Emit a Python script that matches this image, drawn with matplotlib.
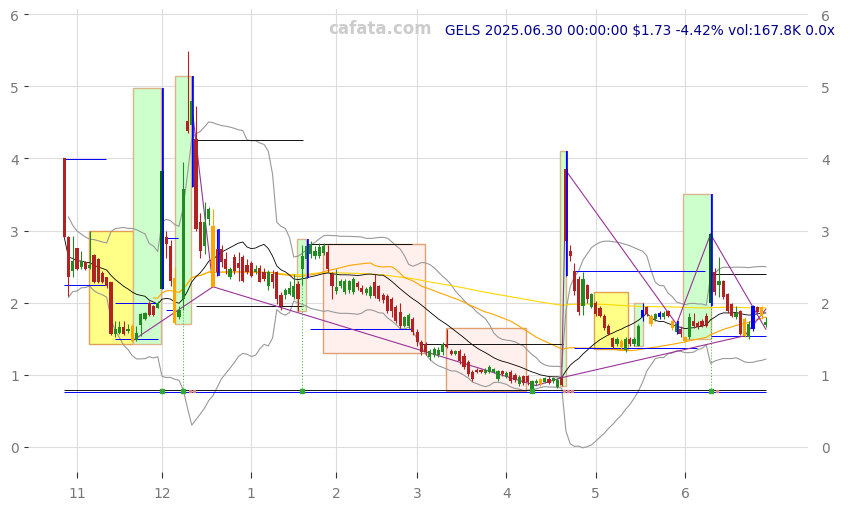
import matplotlib
matplotlib.use("Agg")
import matplotlib.pyplot as plt
from matplotlib.patches import Rectangle
import pandas as pd

# dias de pregao (out/2024 - jun/2025)
feriados = ["2024-11-28", "2024-12-25", "2025-01-01", "2025-01-09", "2025-01-20",
            "2025-02-17", "2025-04-18", "2025-05-26", "2025-06-19"]
datas = pd.bdate_range("2024-10-29", "2025-06-30", freq="C", holidays=feriados)

# OHLC
abre = [4.00, 2.91, 2.44, 2.76, 2.49, 2.56, 2.48, 2.66, 2.60, 2.41,
        2.35, 2.28, 1.57, 1.58, 1.66, 1.60, 1.68, 1.48, 1.69, 1.77,
        2.00, 1.95, 1.93, 2.19, 2.91, 2.79, 2.34, 1.80, 2.05, 4.52,
        4.47, 4.27, 3.12, 2.78, 3.16, 3.06, 2.74, 2.74, 2.60, 2.35,
        2.63, 2.55, 2.63, 2.52, 2.55, 2.42, 2.48, 2.42, 2.23, 2.40,
        2.42, 2.10, 2.10, 2.12, 2.08, 2.26, 2.47, 2.60, 2.67, 2.65,
        2.65, 2.69, 2.70, 2.40, 2.16, 2.23, 2.15, 2.17, 2.15, 2.27,
        2.20, 2.14, 2.09, 2.29, 2.23, 2.10, 2.09, 2.05, 1.94, 1.87,
        1.68, 1.68, 1.77, 1.59, 1.45, 1.43, 1.25, 1.27, 1.28, 1.31,
        1.43, 1.33, 1.29, 1.33, 1.26, 1.18, 1.04, 1.07, 1.07, 1.03,
        1.04, 1.04, 0.94, 1.05, 0.97, 1.04, 1.00, 0.87, 0.98, 0.98,
        0.78, 0.88, 0.94, 0.90, 0.94, 0.91, 0.83, 0.96, 3.85, 2.72,
        2.44, 2.33, 1.96, 2.24, 1.94, 2.00, 1.92, 1.82, 1.68, 1.51,
        1.43, 1.47, 1.34, 1.50, 1.43, 1.40, 1.80, 1.94, 1.82, 1.77,
        1.80, 1.80, 1.88, 1.74, 1.59, 1.63, 1.52, 1.52, 1.74, 1.72,
        1.74, 1.82, 2.00, 2.42, 2.25, 2.30, 2.12, 1.98, 1.80, 1.88,
        1.77, 1.52, 1.63, 1.94, 1.94, 1.69]
maximas = [4.00, 2.92, 2.92, 2.76, 2.71, 2.58, 2.99, 2.68, 2.62, 2.44,
           2.36, 2.29, 1.74, 1.75, 1.74, 1.70, 1.70, 1.68, 1.86, 1.87,
           2.02, 1.97, 2.02, 4.97, 3.00, 2.87, 2.49, 1.95, 3.95, 5.49,
           5.14, 4.72, 3.24, 3.39, 3.33, 3.30, 3.02, 2.80, 2.70, 2.50,
           2.68, 2.70, 2.66, 2.60, 2.58, 2.52, 2.52, 2.48, 2.45, 2.45,
           2.44, 2.15, 2.20, 2.30, 2.40, 2.30, 2.80, 2.88, 2.85, 2.78,
           2.82, 2.82, 2.80, 2.42, 2.47, 2.33, 2.33, 2.32, 2.35, 2.30,
           2.24, 2.22, 2.25, 2.40, 2.25, 2.14, 2.12, 2.08, 1.97, 2.00,
           1.82, 1.85, 1.80, 1.63, 1.48, 1.45, 1.36, 1.38, 1.38, 1.45,
           1.63, 1.36, 1.35, 1.36, 1.30, 1.20, 1.06, 1.09, 1.08, 1.09,
           1.13, 1.10, 1.07, 1.07, 1.05, 1.06, 1.02, 0.99, 1.00, 1.00,
           0.93, 0.94, 0.96, 0.97, 0.98, 0.97, 0.96, 0.98, 4.10, 2.80,
           2.55, 2.37, 2.43, 2.26, 2.14, 2.02, 1.95, 1.84, 1.70, 1.53,
           1.52, 1.50, 1.52, 1.52, 1.52, 1.70, 2.00, 1.96, 1.84, 1.86,
           1.88, 1.88, 1.90, 1.76, 1.75, 1.68, 1.54, 1.85, 1.85, 1.75,
           1.78, 1.85, 3.50, 2.48, 2.63, 2.32, 2.14, 2.00, 1.95, 1.90,
           1.80, 1.75, 1.97, 1.96, 1.96, 1.80]
minimas = [2.90, 2.09, 2.35, 2.45, 2.47, 2.45, 2.46, 2.27, 2.27, 2.27,
           2.20, 1.55, 1.52, 1.56, 1.55, 1.58, 1.46, 1.47, 1.54, 1.76,
           1.82, 1.82, 1.92, 2.19, 2.62, 2.23, 1.70, 1.78, 1.90, 4.35,
           3.60, 3.00, 2.62, 2.68, 3.08, 2.22, 2.37, 2.50, 2.40, 2.33,
           2.40, 2.30, 2.28, 2.40, 2.35, 2.40, 2.28, 2.30, 2.18, 2.20,
           1.98, 1.90, 2.05, 2.10, 2.05, 1.88, 2.25, 2.34, 2.62, 2.60,
           2.62, 2.66, 2.42, 2.05, 2.12, 2.20, 2.12, 2.14, 2.12, 2.18,
           2.12, 2.10, 2.06, 2.06, 2.02, 2.00, 1.85, 1.80, 1.72, 1.65,
           1.66, 1.65, 1.55, 1.40, 1.28, 1.28, 1.20, 1.25, 1.25, 1.28,
           1.37, 1.27, 1.27, 1.15, 1.08, 0.98, 0.92, 1.02, 1.02, 1.01,
           1.02, 1.02, 0.92, 0.98, 0.95, 0.88, 0.90, 0.85, 0.86, 0.86,
           0.76, 0.86, 0.85, 0.88, 0.87, 0.89, 0.81, 0.84, 2.37, 2.58,
           2.10, 1.83, 1.83, 2.00, 1.92, 1.82, 1.80, 1.62, 1.55, 1.37,
           1.40, 1.36, 1.32, 1.40, 1.40, 1.40, 1.75, 1.82, 1.68, 1.75,
           1.78, 1.78, 1.80, 1.62, 1.57, 1.53, 1.46, 1.50, 1.65, 1.64,
           1.66, 1.66, 1.95, 2.10, 2.08, 2.05, 1.86, 1.80, 1.78, 1.55,
           1.52, 1.50, 1.60, 1.85, 1.78, 1.66]
fecha = [2.91, 2.35, 2.58, 2.47, 2.58, 2.47, 2.52, 2.28, 2.29, 2.29,
         2.23, 1.57, 1.63, 1.66, 1.56, 1.64, 1.47, 1.58, 1.84, 1.85,
         1.83, 1.83, 2.00, 3.82, 2.81, 2.30, 1.72, 1.90, 3.57, 4.38,
         4.79, 3.02, 2.72, 3.12, 3.30, 2.22, 2.42, 2.56, 2.47, 2.47,
         2.44, 2.48, 2.30, 2.43, 2.37, 2.47, 2.29, 2.33, 2.42, 2.28,
         2.05, 1.95, 2.18, 2.20, 2.23, 2.05, 2.65, 2.78, 2.81, 2.72,
         2.77, 2.78, 2.47, 2.23, 2.22, 2.30, 2.30, 2.30, 2.33, 2.22,
         2.15, 2.19, 2.22, 2.09, 2.05, 2.03, 1.88, 1.88, 1.75, 1.68,
         1.80, 1.83, 1.59, 1.45, 1.31, 1.31, 1.33, 1.36, 1.35, 1.43,
         1.39, 1.29, 1.33, 1.19, 1.11, 1.01, 0.94, 1.04, 1.04, 1.07,
         1.11, 1.08, 1.05, 1.01, 1.02, 0.91, 0.93, 0.97, 0.88, 0.90,
         0.91, 0.92, 0.87, 0.95, 0.89, 0.95, 0.93, 0.86, 2.85, 2.65,
         2.16, 1.87, 2.33, 2.05, 2.12, 1.84, 1.82, 1.65, 1.57, 1.39,
         1.50, 1.38, 1.50, 1.43, 1.50, 1.68, 1.90, 1.84, 1.70, 1.84,
         1.86, 1.85, 1.82, 1.65, 1.70, 1.56, 1.47, 1.80, 1.67, 1.66,
         1.68, 1.68, 2.95, 2.15, 2.30, 2.08, 1.89, 1.82, 1.85, 1.57,
         1.54, 1.70, 1.95, 1.87, 1.81, 1.73]

# candles com cor especial
candle_laranja = [16, 26, 35, 112, 131, 138, 143, 146, 160, 164]
candle_azul = [136, 140, 162]
candle_verde_escuro = [23, 152]
pavio_azul = [23, 30, 36, 57, 118, 144, 152]

# caixas (barra inicial, barra final, minimo, maximo)
caixas_amarelas = [(5.9, 16.2, 1.42, 3.00), (124.7, 132.7, 1.36, 2.15)]
caixas_verdes = [(16.2, 22.8, 1.42, 4.97), (26.1, 29.9, 1.70, 5.14), (54.8, 56.9, 1.88, 2.88),
                 (116.7, 118.1, 0.84, 4.10), (133.9, 136.0, 1.40, 2.00), (145.6, 152.0, 1.50, 3.50)]
caixas_rosa = [(60.9, 84.9, 1.30, 2.81), (89.9, 108.7, 0.78, 1.65)]

# niveis horizontais (barra inicial, barra final, preco)
niveis_azuis = [(0, 9.9, 3.99), (0, 10.1, 2.24), (12, 22.1, 2.00), (12, 22.1, 1.50),
                (24, 26.8, 2.90), (24, 25.9, 1.90), (57.9, 82.1, 1.63),
                (119.8, 150.8, 2.44), (119.8, 148.9, 1.37), (152, 165, 1.54), (0, 165, 0.76)]
niveis_pretos = [(31, 56.2, 4.25), (31, 56.2, 1.95), (57, 81.9, 2.81),
                 (83.8, 117.2, 1.43), (152, 165, 2.40), (0, 165, 0.79)]

# linhas roxas (zigzag / tendencias)
linhas_roxas = [((16, 1.47), (35, 2.22)), ((30, 4.73), (35, 2.22)), ((35, 2.22), (111, 0.85)),
                ((111, 0.85), (117, 0.96)), ((117, 0.96), (118, 3.83)), ((118, 3.83), (144, 1.70)),
                ((144, 1.70), (152, 2.95)), ((152, 2.95), (165, 1.63)),
                ((117, 0.96), (160, 1.54)), ((160, 1.54), (165, 1.91))]

sinais_verdes = [23, 28, 56, 110, 152]
sinais_vermelhos = [29, 30, 117, 118, 119, 153]
linhas_pontilhadas = [28, 56, 152]

n = len(fecha)
x = list(range(n))

# indicadores
s = pd.Series(fecha)
media20 = s.rolling(20, min_periods=1).mean()
desvio = s.rolling(20, min_periods=2).std(ddof=0)
banda_sup = media20 + 2 * desvio
banda_inf = media20 - 2 * desvio
media50 = s.rolling(50, min_periods=22).mean()
media200 = s.rolling(200, min_periods=28).mean()

fig = plt.figure(figsize=(8.5, 5.06), dpi=100)
ax = fig.add_axes([0.033, 0.065, 0.918, 0.915])

# caixas
for a, b, lo, hi in caixas_amarelas:
    ax.add_patch(Rectangle((a, lo), b - a, hi - lo, facecolor="#ffff88", edgecolor="#e0a050", lw=1.0, zorder=1))
for a, b, lo, hi in caixas_verdes:
    ax.add_patch(Rectangle((a, lo), b - a, hi - lo, facecolor="#ccffcc", edgecolor="#dcb48c", lw=1.0, zorder=1))
for a, b, lo, hi in caixas_rosa:
    ax.add_patch(Rectangle((a, lo), b - a, hi - lo, facecolor="#fff0ee", edgecolor="#e0a070", lw=1.0, zorder=1))

# bandas e medias
ax.plot(x, banda_sup, color="#999999", lw=0.8, zorder=2)
ax.plot(x, banda_inf, color="#999999", lw=0.8, zorder=2)
ax.plot(x, media200, color="#ffd700", lw=0.8, zorder=2)
ax.plot(x, media50, color="#ffa500", lw=0.8, zorder=2)
ax.plot(x, media20, color="black", lw=0.6, zorder=2)

# niveis
for a, b, p in niveis_azuis:
    ax.hlines(p, a, b, color="#0000ff", lw=0.7, zorder=3)
for a, b, p in niveis_pretos:
    ax.hlines(p, a, b, color="#111111", lw=0.7, zorder=3)

for (x1, y1), (x2, y2) in linhas_roxas:
    ax.plot([x1, x2], [y1, y2], color="#993399", lw=0.8, zorder=3)

for i in linhas_pontilhadas:
    ax.vlines(i, 0.78, minimas[i], color="#33aa33", lw=0.7, linestyles=(0, (1, 2)), zorder=3)

# candles
cores = []
for i in range(n):
    if i in candle_laranja:
        cores.append("#ffa500")
    elif i in candle_azul:
        cores.append("#0000ff")
    elif i in candle_verde_escuro:
        cores.append("#006400")
    elif fecha[i] < abre[i]:
        cores.append("#b22222")
    else:
        cores.append("#228b22")

pavio_cor = ["#0000ff" if i in pavio_azul else cores[i] for i in range(n)]
ax.vlines(x, minimas, maximas, color=pavio_cor, lw=0.8, zorder=4)
base = [min(o, c) for o, c in zip(abre, fecha)]
altura = [max(abs(c - o), 0.015) for o, c in zip(abre, fecha)]
ax.bar(x, altura, bottom=base, width=0.75, color=cores, zorder=5)
for i in pavio_azul:
    ax.vlines(i + 0.35, minimas[i], maximas[i], color="#0000ff", lw=1.2, zorder=6)

ax.plot(sinais_verdes, [0.775] * len(sinais_verdes), "s", color="#33aa33", ms=2.5, zorder=6)
ax.plot([i + 0.5 for i in sinais_vermelhos], [0.775] * len(sinais_vermelhos), "s",
        color="#e08888", ms=2, zorder=6)

# eixos
meses = [i for i in range(1, n) if datas[i].month != datas[i - 1].month]
ax.set_xticks(meses)
ax.set_xticklabels([str(datas[i].month) for i in meses])
ax.set_xlim(-8.5, 175)
ax.set_ylim(-0.35, 6.07)
ax.set_yticks(range(0, 7))
ax.grid(color="#dddddd", lw=0.8)
ax.set_axisbelow(True)
for sp in ax.spines.values():
    sp.set_visible(False)
ax.tick_params(axis="x", colors="#333333", labelcolor="#777777", length=4, labelsize=10, pad=6)
ax.tick_params(axis="y", colors="#333333", labelcolor="#777777", length=3, labelsize=10)

ax2 = ax.twinx()
ax2.set_ylim(ax.get_ylim())
ax2.set_yticks(range(0, 7))
ax2.tick_params(axis="y", length=0, labelcolor="#777777", labelsize=10, pad=9)
for sp in ax2.spines.values():
    sp.set_visible(False)

fig.text(0.447, 0.943, "cafata.com", color="#cccccc", fontsize=12, fontweight="bold",
         ha="center", va="center")
fig.text(0.524, 0.938, "GELS 2025.06.30 00:00:00 $1.73 -4.42% vol:167.8K 0.0x",
         color="#00008b", fontsize=9.8, ha="left", va="center")

plt.savefig("out.png", dpi=100)
